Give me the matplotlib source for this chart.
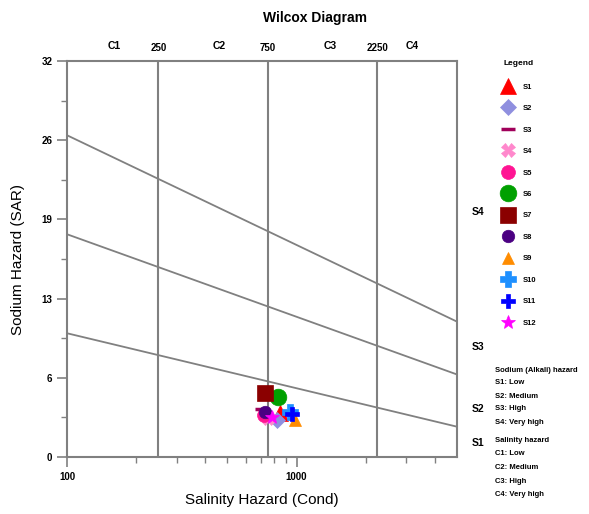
import numpy as np
import matplotlib
matplotlib.use("Agg")
from matplotlib import pyplot as plt
from matplotlib.ticker import FixedLocator, NullFormatter

plt.rcParams['font.family'] = ['Liberation Sans', 'DejaVu Sans']

# samples: conductivity and SAR
names = ['S1', 'S2', 'S3', 'S4', 'S5', 'S6', 'S7', 'S8', 'S9', 'S10', 'S11', 'S12']
cond = [844, 818, 704, 748, 719, 827, 726, 726, 980, 932, 951, 778]
sar = [3.56, 3.0, 3.9, 3.15, 3.4, 4.85, 5.17, 3.64, 3.0, 3.64, 3.47, 3.23]
markers = ['^', 'D', '_', 'X', 'o', 'o', 's', 'o', '^', 'P', 'P', '*']
colors = ['#ff0000', '#8f8fdf', '#a0005a', '#ff88cc', '#ff1493', '#00a000',
          '#8b0000', '#4b0082', '#ff8c00', '#1e90ff', '#0000ff', '#ff00ff']
sizes = [11, 8, 10, 10, 10, 12, 11, 9, 8, 11, 10, 10]

# salinity class boundaries
c_bounds = [250, 750, 2250]
c_labels = ['C1', 'C2', 'C3', 'C4']
c_label_x = [160, 460, 1400, 3200]

# sodium hazard boundaries (SAR at EC=100 and EC=5000)
s_lines = [(10.0, 2.45), (18.0, 6.67), (26.0, 10.94)]
s_labels = ['S1', 'S2', 'S3', 'S4']
s_label_y = [1.1, 3.9, 8.9, 19.8]

yticks = [0, 6.4, 12.8, 19.2, 25.6, 32]
ytick_labels = ['0', '6', '13', '19', '26', '32']

fig = plt.figure(figsize=(5.89, 5.14), dpi=100)
ax = fig.add_axes([0.1138, 0.1109, 0.662, 0.7704])
gray = '#808080'

ax.set_xscale('log')
ax.set_xlim(100, 5000)
ax.set_ylim(0, 32)

for c in c_bounds:
    ax.axvline(c, color=gray, lw=1.5, zorder=1)
for y0, y1 in s_lines:
    ax.plot([100, 5000], [y0, y1], color=gray, lw=1.3, zorder=1)

for i in range(len(names)):
    ax.plot(cond[i], sar[i], marker=markers[i], color=colors[i], ms=sizes[i],
            mew=2.5 if markers[i] == '_' else 0.5, mec=colors[i], ls='none',
            label=names[i], zorder=3)

for s in ax.spines.values():
    s.set_color(gray)
    s.set_linewidth(1.5)

ax.xaxis.set_major_locator(FixedLocator([100, 1000]))
ax.set_xticklabels(['100', '1000'])
ax.xaxis.set_minor_locator(FixedLocator([200, 300, 400, 500, 600, 700, 800, 900,
                                         2000, 3000, 4000]))
ax.xaxis.set_minor_formatter(NullFormatter())
ax.set_yticks(yticks)
ax.set_yticklabels(ytick_labels)
ax.yaxis.set_minor_locator(FixedLocator([3.2, 9.6, 16, 22.4, 28.8]))
ax.tick_params(which='major', length=7, color=gray, width=1.2,
               labelsize=7)
ax.tick_params(which='minor', length=4, color=gray, width=1.0)
for lbl in ax.get_xticklabels() + ax.get_yticklabels():
    lbl.set_fontweight('bold')

top = ax.twiny()
top.set_xscale('log')
top.set_xlim(100, 5000)
top.xaxis.set_major_locator(FixedLocator(c_bounds))
top.set_xticklabels([str(c) for c in c_bounds], fontsize=7, fontweight='bold')
top.xaxis.set_minor_locator(FixedLocator([]))
top.tick_params(length=0, pad=6)
for s in top.spines.values():
    s.set_visible(False)
for x, t in zip(c_label_x, c_labels):
    ax.text(x, 1.025, t, transform=ax.get_xaxis_transform(), ha='center',
            va='bottom', fontsize=7.5, fontweight='bold')

for y, t in zip(s_label_y, s_labels):
    ax.text(1.038, y, t, transform=ax.get_yaxis_transform(), ha='left',
            va='center', fontsize=7.5, fontweight='bold')

fig.text(0.535, 0.965, 'Wilcox Diagram', ha='center', va='center',
         fontsize=10, fontweight='bold')
ax.set_xlabel('Salinity Hazard (Cond)', fontsize=11, labelpad=8)
ax.set_ylabel('Sodium Hazard (SAR)', fontsize=11, labelpad=12)

leg = fig.legend(loc='upper left', bbox_to_anchor=(0.845, 0.89),
                 frameon=False, title='Legend', fontsize=5.5,
                 labelspacing=1.85, handletextpad=0.9, borderaxespad=0,
                 markerscale=1.0)
leg.get_title().set_fontsize(6)
leg.get_title().set_fontweight('bold')
leg._legend_box.sep = 12
for t in leg.get_texts():
    t.set_fontweight('bold')

notes = ['Sodium (Alkali) hazard', 'S1: Low', 'S2: Medium', 'S3: High',
         'S4: Very high']
notes2 = ['Salinity hazard', 'C1: Low', 'C2: Medium', 'C3: High',
          'C4: Very high']
for i, t in enumerate(notes):
    fig.text(0.84, 1 - (370 + i * 13) / 514, t, fontsize=5.5,
             fontweight='bold', va='center')
for i, t in enumerate(notes2):
    fig.text(0.84, 1 - (440 + i * 13.7) / 514, t, fontsize=5.5,
             fontweight='bold', va='center')

fig.savefig('out.png', dpi=100)
